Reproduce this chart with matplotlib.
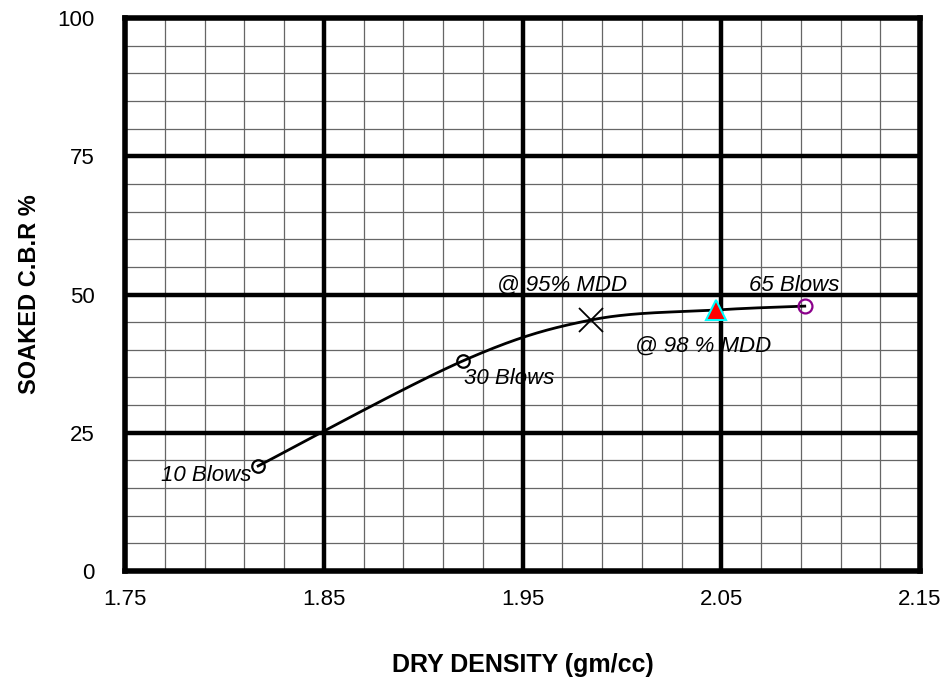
import numpy as np
import matplotlib
matplotlib.use("Agg")
import matplotlib.pyplot as plt

plt.rcParams['font.family'] = ['Liberation Sans', 'DejaVu Sans']

# Data
blows_labels = ["10 Blows", "30 Blows", "65 Blows"]
density = [1.817, 1.920, 2.092]
cbr = [19.0, 38.0, 47.9]
mdd95 = (1.9845, 45.4)
mdd98 = (2.0475, 47.2)

x_ticks = [1.75, 1.85, 1.95, 2.05, 2.15]
y_ticks = [0, 25, 50, 75, 100]

fig = plt.figure(figsize=(9.47, 6.85), dpi=100)
ax = fig.add_axes([0.132, 0.1664, 0.8395, 0.8073])
ax.set_xlim(1.75, 2.15)
ax.set_ylim(0, 100)

# grid
for xv in np.arange(1.75, 2.15001, 0.02):
    ax.axvline(xv, color='#666666', lw=0.9, zorder=1)
for yv in np.arange(0, 100.001, 5):
    ax.axhline(yv, color='#666666', lw=0.9, zorder=1)
for xv in [1.85, 1.95, 2.05]:
    ax.axvline(xv, color='black', lw=3.2, zorder=2)
for yv in [25, 50, 75]:
    ax.axhline(yv, color='black', lw=3.2, zorder=2)
for s in ax.spines.values():
    s.set_linewidth(4)
    s.set_zorder(5)

# smooth curve through all points (cardinal spline in display space, Excel-like)
cx = [density[0], density[1], mdd95[0], mdd98[0], density[2]]
cy = [cbr[0], cbr[1], mdd95[1], mdd98[1], cbr[2]]
fig.canvas.draw()
pts = ax.transData.transform(np.column_stack([cx, cy]))
n = len(pts)
curve = []
t = 1/6
for i in range(n - 1):
    p0 = pts[i - 1] if i > 0 else pts[i]
    p1 = pts[i]
    p2 = pts[i + 1]
    p3 = pts[i + 2] if i + 2 < n else pts[i + 1]
    c1 = p1 + (p2 - p0) * t
    c2 = p2 - (p3 - p1) * t
    s = np.linspace(0, 1, 60)[:, None]
    b = (1 - s)**3 * p1 + 3 * (1 - s)**2 * s * c1 + 3 * (1 - s) * s**2 * c2 + s**3 * p2
    curve.append(b)
curve = np.vstack(curve)
cd = ax.transData.inverted().transform(curve)
ax.plot(cd[:, 0], cd[:, 1], color='black', lw=2, zorder=6)

ax.plot(density[:2], cbr[:2], 'o', mfc='none', mec='black', ms=9, mew=1.6, zorder=7)
ax.plot(density[2], cbr[2], 'o', mfc='none', mec='#8B008B', ms=10, mew=1.6, zorder=7)
ax.plot(*mdd95, 'x', color='black', ms=17, mew=1.3, zorder=7)
ax.plot(*mdd98, '^', mfc='red', mec='cyan', ms=14, mew=1.5, zorder=7)

fs = 16
ax.text(1.8135, 17.3, blows_labels[0], ha='right', va='center', style='italic', fontsize=fs, zorder=8)
ax.text(1.9205, 34.8, blows_labels[1], ha='left', va='center', style='italic', fontsize=fs, zorder=8)
ax.text(2.1095, 51.6, blows_labels[2], ha='right', va='center', style='italic', fontsize=fs, zorder=8)
ax.text(1.970, 51.6, "@ 95% MDD", ha='center', va='center', style='italic', fontsize=fs, zorder=8)
ax.text(2.041, 40.6, "@ 98 % MDD", ha='center', va='center', style='italic', fontsize=fs, zorder=8)

ax.set_xticks(x_ticks)
ax.set_xticklabels([f"{v:.2f}" for v in x_ticks])
ax.set_yticks(y_ticks)
ax.tick_params(length=0, labelsize=16, pad=13)
ax.tick_params(axis='y', pad=22)

ax.set_xlabel("DRY DENSITY (gm/cc)", fontsize=18, fontweight='bold', labelpad=31)
ax.set_ylabel("SOAKED C.B.R %", fontsize=17, fontweight='bold', labelpad=12)

fig.savefig("out.png", dpi=100)
